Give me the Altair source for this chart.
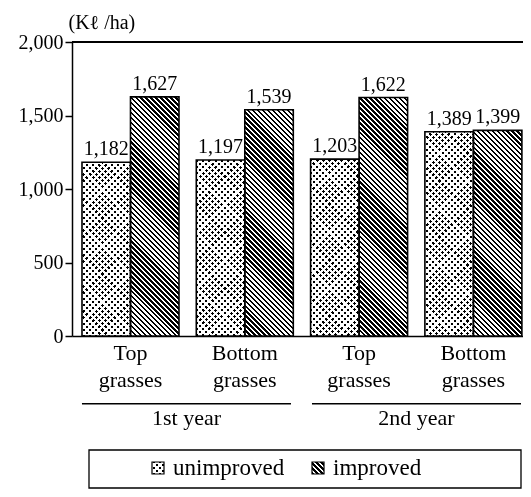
import math
import altair as alt

# ---------------- data ----------------
years = ["1st year", "1st year", "2nd year", "2nd year"]
grasses = ["Top grasses", "Bottom grasses", "Top grasses", "Bottom grasses"]
unimproved = [1182, 1197, 1203, 1389]
improved = [1627, 1539, 1622, 1399]
series = ["unimproved", "improved"]
year_labels = ["1st year", "2nd year"]
y_ticks = [0, 500, 1000, 1500, 2000]
y_max = 2000
unit_label = "(K\u2113 /ha)"

# ---------------- layout ----------------
W, H = 451, 294
FONT = "Liberation Serif"
cat_pi, cat_po, cat_align = 0.1514, 0.0486, 0.9
n = len(grasses)
step = W / (n - cat_pi + 2 * cat_po)
bar_w = step * (1 - cat_pi) / 2


def stripes(w, h, period, frac, slope):
    """Linear gradient that draws 45-degree black/white stripes in a w x h box."""
    k = h / w
    s = (1 + k) / (1 + k * k)
    if slope == "back":
        x1, y1, x2, y2 = 0, 1, s, 1 - s * k
    else:
        x1, y1, x2, y2 = 0, 0, s, s * k
    span = (w + h) / math.sqrt(2)
    N = span / period
    stops = []
    i = 0
    while i < N:
        a = i / N
        b = min((i + frac) / N, 1)
        c = min((i + 1) / N, 1)
        stops += [{"offset": round(a, 5), "color": "#000"},
                  {"offset": round(b, 5), "color": "#000"}]
        if b < 1:
            stops += [{"offset": round(b, 5), "color": "#fff"},
                      {"offset": round(c, 5), "color": "#fff"}]
        i += 1
    return {"gradient": "linear", "x1": round(x1, 5), "y1": round(y1, 5),
            "x2": round(x2, 5), "y2": round(y2, 5), "stops": stops}


DOT_P, DOT_F = 4.4, 0.5
HATCH_P, HATCH_F = 3.5, 0.5

cats = [f"{years[i]} / {grasses[i]}" for i in range(n)]
rows = []
for i in range(n):
    for trt, vals in zip(series, [unimproved, improved]):
        v = vals[i]
        h = v / y_max * H
        if trt == "improved":
            g1 = stripes(bar_w, h, HATCH_P, HATCH_F, "back")
            g2 = "#fff"
        else:
            g1 = stripes(bar_w, h, DOT_P, DOT_F, "back")
            g2 = stripes(bar_w, h, DOT_P, DOT_F, "fwd")
        rows.append({"cat": cats[i], "year": years[i], "grass": grasses[i],
                     "trt": trt, "value": v, "g1": g1, "g2": g2})

data = alt.Data(values=rows)

x_cat = alt.X(
    "cat:N", sort=cats,
    scale=alt.Scale(domain=cats, paddingInner=cat_pi, paddingOuter=cat_po, align=cat_align),
    axis=alt.Axis(title=None, ticks=False, domainColor="black", domainWidth=1.5,
                  labelExpr="split(split(datum.label, ' / ')[1], ' ')",
                  labelFont=FONT, labelFontSize=22, labelColor="black",
                  labelLineHeight=27, labelPadding=6, labelAngle=0),
)
x_off = alt.XOffset("trt:N", sort=series,
                    scale=alt.Scale(domain=series, paddingInner=0, paddingOuter=0))
y_scale = alt.Scale(domain=[0, y_max], nice=False)
y_axis = alt.Axis(values=y_ticks, format=",d", grid=False,
                  domainColor="black", domainWidth=1.5,
                  tickColor="black", tickWidth=1.5, tickSize=7,
                  labelFont=FONT, labelFontSize=20, labelColor="black", labelPadding=2,
                  title=unit_label, titleFont=FONT, titleFontSize=20,
                  titleFontWeight="normal", titleColor="black", titleAngle=0,
                  titleX=-4, titleY=-14, titleAlign="left", titleBaseline="alphabetic")
y_val = alt.Y("value:Q", scale=y_scale, axis=y_axis)

base = alt.Chart(data)

fill1 = base.mark_bar(strokeWidth=0).encode(
    x=x_cat, xOffset=x_off, y=y_val, fill=alt.Fill("g1:N", scale=None))
fill2 = base.mark_bar(strokeWidth=0, blend="lighten").transform_filter(
    alt.datum.trt == "unimproved").encode(
    x=x_cat, xOffset=x_off, y=y_val, fill=alt.Fill("g2:N", scale=None))
outline = base.mark_bar(fillOpacity=0, stroke="black", strokeWidth=1.6).encode(
    x=x_cat, xOffset=x_off, y=y_val)
labels = base.mark_text(baseline="alphabetic", dy=-7, font=FONT, fontSize=20,
                        color="black").encode(
    x=x_cat, xOffset=x_off, y=y_val, text=alt.Text("value:Q", format=","))
top_rule = base.mark_rule(color="black", strokeWidth=1.5).encode(
    y=alt.Y(datum=y_max, type="quantitative", scale=y_scale, axis=y_axis))

inner = alt.layer(fill1, fill2, outline, labels, top_rule)

# year labels and their underlines
year_layer = alt.Chart(alt.Data(values=[{"year": y} for y in year_labels])).mark_bar(
    color="black").encode(
    x=alt.X("year:N", sort=year_labels,
            scale=alt.Scale(domain=year_labels, paddingInner=0.0913, paddingOuter=0.026, align=0.833),
            axis=alt.Axis(orient="bottom", title=None, ticks=False, domain=False,
                          labelPadding=71, labelFont=FONT, labelFontSize=22,
                          labelColor="black", labelAngle=0)),
    y=alt.value(H + 67), y2=alt.value(H + 68.4))

# legend
leg = alt.Data(values=[{"k": 1}])
sw = 12
sw1_x, sw2_x, sw_y = 80, 240, 420
box = alt.Chart(leg).mark_rect(fill="white", fillOpacity=0, stroke="black", strokeWidth=1.3).encode(
    x=alt.value(17), x2=alt.value(449), y=alt.value(408), y2=alt.value(446))
sw1a = alt.Chart(leg).mark_rect(fill=stripes(sw, sw, DOT_P, DOT_F, "back")).encode(
    x=alt.value(sw1_x), x2=alt.value(sw1_x + sw), y=alt.value(sw_y), y2=alt.value(sw_y + sw))
sw1b = alt.Chart(leg).mark_rect(fill=stripes(sw, sw, DOT_P, DOT_F, "fwd"), blend="lighten").encode(
    x=alt.value(sw1_x), x2=alt.value(sw1_x + sw), y=alt.value(sw_y), y2=alt.value(sw_y + sw))
sw2 = alt.Chart(leg).mark_rect(fill=stripes(sw, sw, HATCH_P, HATCH_F, "back")).encode(
    x=alt.value(sw2_x), x2=alt.value(sw2_x + sw), y=alt.value(sw_y), y2=alt.value(sw_y + sw))
sw_out = [alt.Chart(leg).mark_rect(fillOpacity=0, stroke="black", strokeWidth=1.2).encode(
    x=alt.value(xx), x2=alt.value(xx + sw), y=alt.value(sw_y), y2=alt.value(sw_y + sw))
    for xx in (sw1_x, sw2_x)]
txt = [alt.Chart(leg).mark_text(align="left", baseline="middle", font=FONT, fontSize=23,
                                color="black").encode(
    x=alt.value(xx + sw + 9), y=alt.value(sw_y + sw / 2), text=alt.value(lab))
    for xx, lab in zip((sw1_x, sw2_x), series)]

chart = alt.layer(inner, year_layer, box, sw1a, sw1b, sw2, *sw_out, *txt).resolve_scale(
    x="independent"
).properties(
    width=W, height=H,
    autosize=alt.AutoSizeParams(type="none"),
    padding={"left": 64, "top": 34, "right": 0, "bottom": 153},
    background="white",
).configure_view(stroke=None)

chart.save("out.html", embed_options={"renderer": "svg", "actions": False})
